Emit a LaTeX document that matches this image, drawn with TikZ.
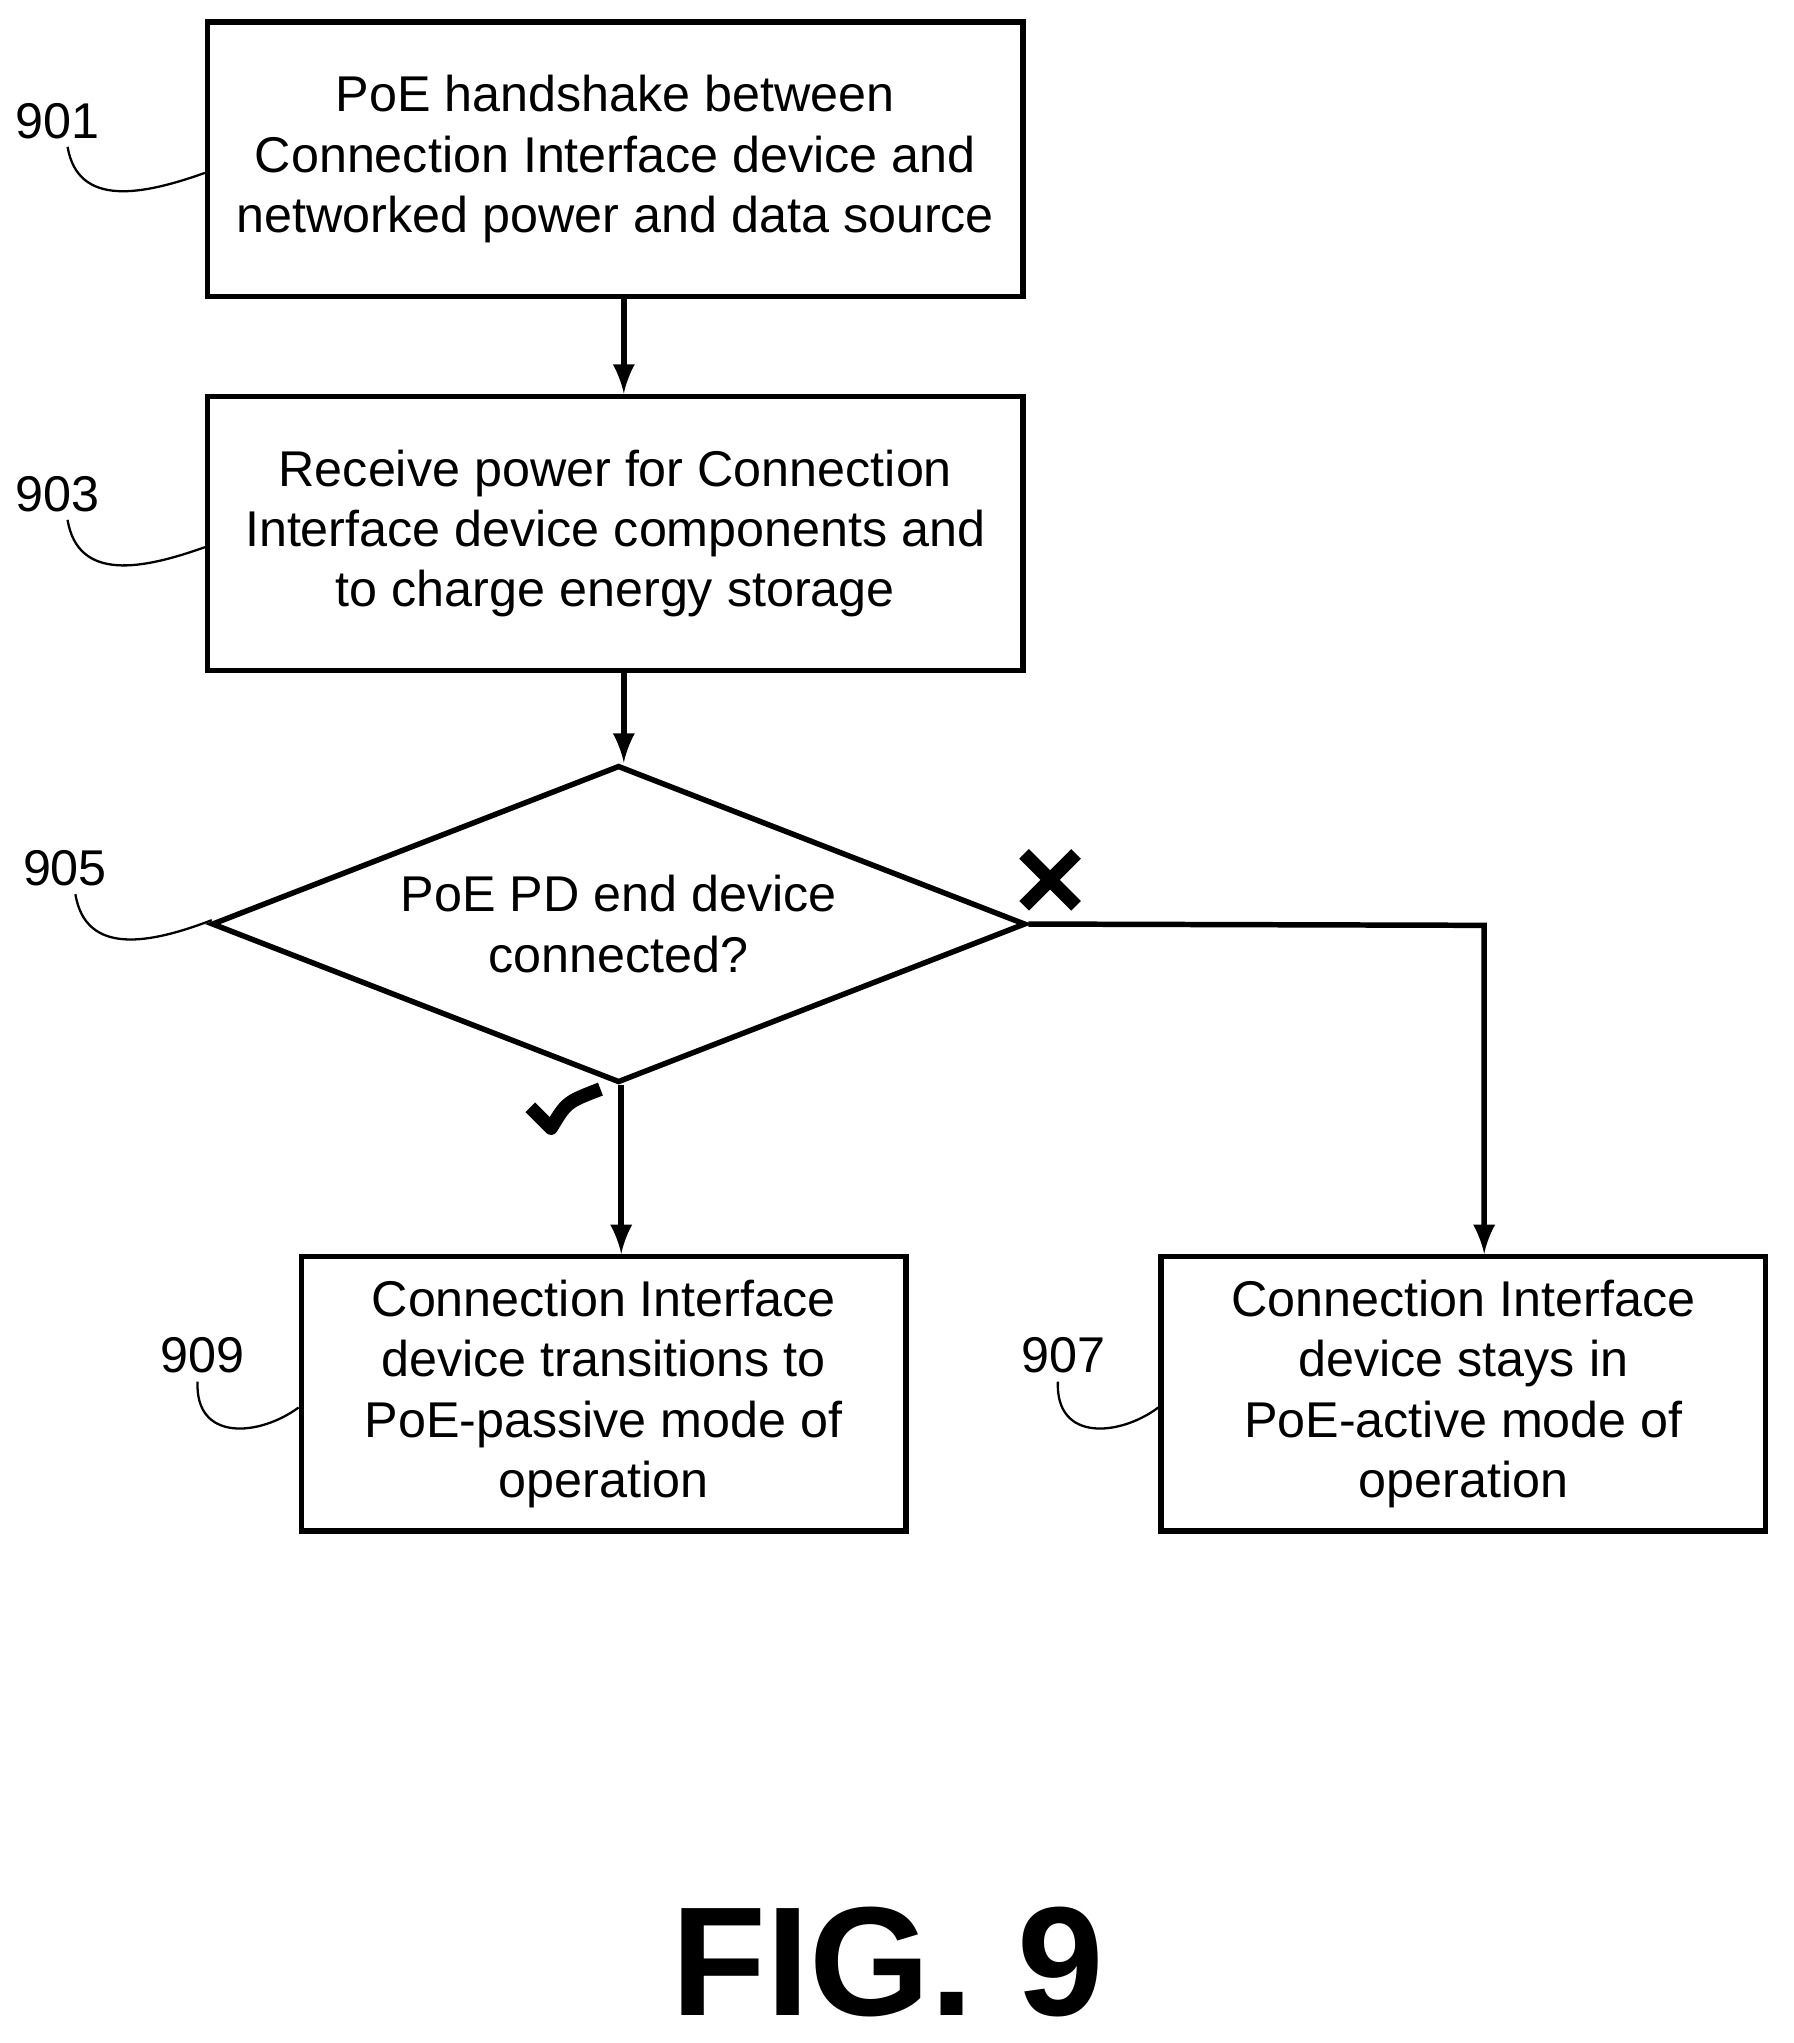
\documentclass[tikz,border=0pt]{standalone}
\usepackage{fontspec}
\setmainfont{Liberation Sans}
\usetikzlibrary{shapes.geometric}
\begin{document}
\begin{tikzpicture}[x=0.01cm,y=-0.01cm,
  box/.style={draw,line width=1.2pt,minimum width=6.27cm,minimum height=2.11cm,align=center,font=\fontsize{11pt}{13.2pt}\selectfont},
  sbox/.style={box,minimum width=4.65cm},
  lbl/.style={font=\fontsize{11pt}{13pt}\selectfont},
  lead/.style={line width=0.5pt},
  arr/.style={line width=1.2pt,-latex}]
  \useasboundingbox (0,0) rectangle (1380,1572);

  \node[box] (B901) at (473.5, 122.5) {PoE handshake between\\Connection Interface device and\\networked power and data source};
  \node[box] (B903) at (473.5, 410.5) {Receive power for Connection\\Interface device components and\\to charge energy storage};
  \node[diamond,draw,line width=1.2pt,minimum width=6.26cm,minimum height=2.44cm,inner sep=0pt] (D905) at (476, 711) {};
  \node[align=center,font=\fontsize{11pt}{13.2pt}\selectfont] (T905) at (476, 711) {PoE PD end device\\connected?};
  \node[sbox] (B909) at (464.5, 1072.5) {Connection Interface\\device transitions to\\PoE-passive mode of\\operation};
  \node[sbox] (B907) at (1126, 1072.5) {Connection Interface\\device stays in\\PoE-active mode of\\operation};

  \draw[arr] (B901.south -| 480,0) -- (B903.north -| 480,0);
  \draw[arr] (B903.south -| 480,0) -- (D905.north -| 480,0);
  \draw[arr] (D905.south -| 478,0) -- (B909.north -| 478,0);
  \coordinate (K1) at (1142, 712);
  \draw[arr] (D905.east) -- (K1) -- (B907.north -| K1);

  % yes / no marks
  \node (NO) at (808, 677) {};
  \draw[line width=3pt] (788,657) -- (828,697) (828,657) -- (788,697);
  \node (YES) at (432, 855) {};
  \draw[line width=3pt,line join=round] (408,852) -- (424,868) .. controls (436,848) .. (462,838);

  % reference numerals
  \node[lbl] (L901) at (44, 93) {901};
  \draw[lead] (52,113) .. controls (60,160) and (110,150) .. (B901.west |- 0,133);
  \node[lbl] (L903) at (44, 380) {903};
  \draw[lead] (52,400) .. controls (60,448) and (110,438) .. (B903.west |- 0,421);
  \node[lbl] (L905) at (50, 668) {905};
  \draw[lead] (58,688) .. controls (66,736) and (116,726) .. (163,708);
  \node[lbl] (L909) at (156, 1043) {909};
  \draw[lead] (152,1063) .. controls (150,1110) and (200,1105) .. (B909.west |- 0,1083);
  \node[lbl] (L907) at (818, 1043) {907};
  \draw[lead] (814,1063) .. controls (812,1110) and (862,1105) .. (B907.west |- 0,1083);

  \node[font=\fontsize{34pt}{34pt}\selectfont\bfseries] (FIG) at (683, 1510) {FIG. 9};
\end{tikzpicture}
\end{document}
